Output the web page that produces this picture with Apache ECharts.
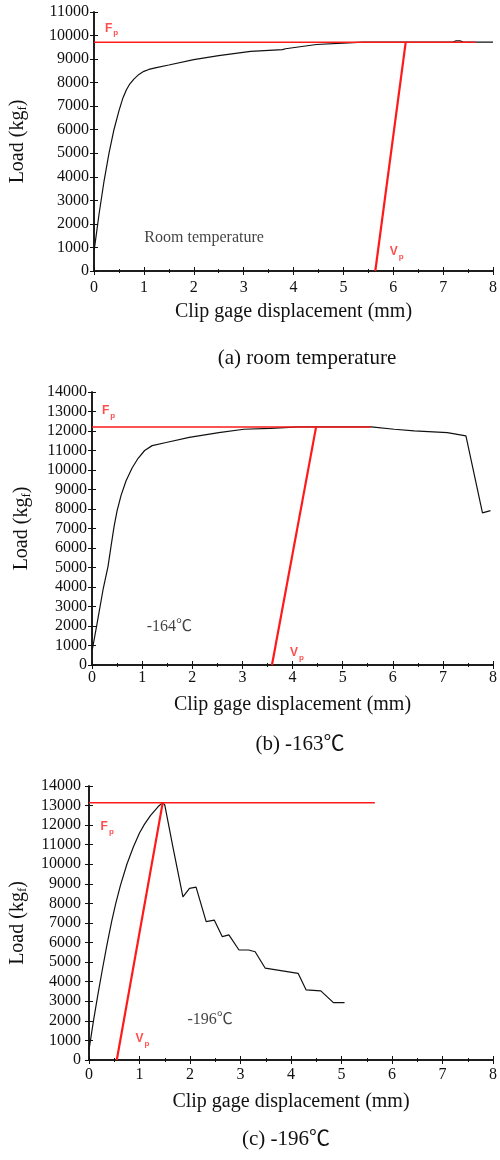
<!DOCTYPE html>
<html><head><meta charset="utf-8">
<script src="https://cdn.jsdelivr.net/npm/echarts@6/dist/echarts.min.js"></script>
<style>html,body{margin:0;padding:0;background:#fff}#c{width:500px;height:1160px}</style>
</head><body><div id="c"></div>
<script>
// ---- data ----
const roomX = [0.005,0.1,0.2,0.3,0.4,0.5,0.58,0.65,0.72,0.8,0.9,1.0,1.1,1.25,1.5,2.0,2.5,3.14,3.78,3.84,4.46,5.0,5.39,6.1,7.2,7.25,7.35,7.4,8];
const roomY = [900,2400,3800,5000,6000,6800,7350,7700,7950,8150,8350,8480,8560,8640,8750,8980,9150,9330,9400,9440,9620,9680,9720,9720,9720,9770,9770,9720,9720];
const roomFpX = [0,7.65]; const roomFpY = [9720,9720];
const roomVpX = [5.64,6.25]; const roomVpY = [0,9720];

const m164X = [0.005,0.09,0.22,0.32,0.38,0.44,0.5,0.58,0.68,0.8,0.92,1.05,1.2,1.48,1.94,2.53,3.03,3.56,4.12,5.57,6.03,6.43,7.09,7.46,7.79,7.95];
const m164Y = [770,1970,3860,5060,6100,7100,7900,8700,9450,10100,10600,11000,11250,11410,11670,11920,12090,12130,12210,12210,12090,12010,11920,11750,7800,7920];
const m164FpX = [0,5.56]; const m164FpY = [12200,12200];
const m164VpX = [3.59,4.47]; const m164VpY = [0,12200];

const m196X = [0.0,0.085,0.17,0.27,0.36,0.45,0.53,0.62,0.75,0.88,1.0,1.1,1.22,1.37,1.46,1.50,1.66,1.86,1.99,2.12,2.32,2.48,2.64,2.77,2.97,3.16,3.29,3.49,4.14,4.30,4.59,4.84,5.06];
const m196Y = [510,1950,3250,4700,5950,7100,8000,8900,10000,10900,11600,12050,12500,12950,13150,13030,10900,8340,8770,8830,7070,7150,6300,6390,5620,5620,5530,4690,4430,3580,3530,2930,2930];
const m196FpX = [0,5.66]; const m196FpY = [13150,13150];
const m196VpX = [0.55,1.46]; const m196VpY = [0,13150];

const xTicks = {min:0, max:8, interval:1};
const yMaxA = 11000, yMaxB = 14000, yMaxC = 14000;

const notes = [
  {g:0, x:1.01, y:1400, t:'Room temperature', kind:'txt'},
  {g:0, x:0.22, y:10300, kind:'Fp'},
  {g:0, x:5.93, y:810, kind:'Vp'},
  {g:1, x:1.09, y:1960, t:'-164℃', kind:'txt'},
  {g:1, x:0.2, y:13020, kind:'Fp'},
  {g:1, x:3.95, y:620, kind:'Vp'},
  {g:2, x:1.95, y:2040, t:'-196℃', kind:'txt'},
  {g:2, x:0.23, y:11900, kind:'Fp'},
  {g:2, x:0.92, y:1070, kind:'Vp'}
];
const captions = ['(a) room temperature','(b) -163℃','(c) -196℃'];
const xName = 'Clip gage displacement (mm)';
// ---- chart ----
const zip = (a,b) => a.map((v,i)=>[v,b[i]]);
const serif = '"Liberation Serif","Times New Roman","Noto Sans CJK SC",serif';
const grids = [
  {left:92, top:12, right:5, height:259},
  {left:92, top:392, right:4, height:273},
  {left:88, top:786, right:3, height:274}
];
const yMax = [yMaxA,yMaxB,yMaxC];
const xMargins = [9,5,7];
const yMargins = [5,5,8];
const xGaps = [31,30,32];
const yGaps = [65,59,60];
const xAxes=[], yAxes=[];
const plain = v => String(v);
grids.forEach((g,i)=>{
  const line = {show:true, lineStyle:{color:'#111', width:1.5}};
  const tick = {show:true, inside:true, length:4, lineStyle:{color:'#111', width:1}};
  xAxes.push({gridIndex:i, type:'value', min:xTicks.min, max:xTicks.max, interval:xTicks.interval, position:'bottom',
    axisLine:line, axisTick:tick,
    minorTick:{show:true, splitNumber:2, length:2, lineStyle:{color:'#111'}}, splitLine:{show:false}, minorSplitLine:{show:false},
    axisLabel:{fontFamily:serif, fontSize:16, color:'#111', margin:xMargins[i], formatter:plain},
    name:xName, nameLocation:'middle', nameGap:xGaps[i], nameTextStyle:{fontFamily:serif, fontSize:20, color:'#111', verticalAlign:'top'}});
  xAxes.push({gridIndex:i, type:'value', min:xTicks.min, max:xTicks.max, interval:xTicks.interval, position:'top',
    axisLine:line, axisTick:tick,
    minorTick:{show:true, splitNumber:2, length:2, lineStyle:{color:'#111'}}, splitLine:{show:false}, axisLabel:{show:false}});
  yAxes.push({gridIndex:i, type:'value', min:0, max:yMax[i], interval:1000, position:'left',
    axisLine:line, axisTick:tick, splitLine:{show:false},
    axisLabel:{fontFamily:serif, fontSize:16, color:'#111', margin:yMargins[i], formatter:plain},
    name:'Load (kg{s|f})', nameLocation:'middle', nameGap:yGaps[i],
    nameTextStyle:{fontFamily:serif, fontSize:20, color:'#111', rich:{s:{fontFamily:serif, fontSize:13, color:'#111', padding:[9,0,0,0]}}}});
  yAxes.push({gridIndex:i, type:'value', min:0, max:yMax[i], interval:1000, position:'right',
    axisLine:line, axisTick:tick, splitLine:{show:false}, axisLabel:{show:false}});
});
const sets = [
  [roomX,roomY,roomFpX,roomFpY,roomVpX,roomVpY],
  [m164X,m164Y,m164FpX,m164FpY,m164VpX,m164VpY],
  [m196X,m196Y,m196FpX,m196FpY,m196VpX,m196VpY]
];
const series=[];
sets.forEach((s,i)=>{
  const ax = {xAxisIndex:2*i, yAxisIndex:2*i};
  series.push(Object.assign({type:'line', data:zip(s[0],s[1]), showSymbol:false, symbol:'none', lineStyle:{color:'#111', width:1.2}, z:3}, ax));
  series.push(Object.assign({type:'line', data:zip(s[2],s[3]), showSymbol:false, symbol:'none', lineStyle:{color:'#ff1a1a', width:1.5}, z:4}, ax));
  series.push(Object.assign({type:'line', data:zip(s[4],s[5]), showSymbol:false, symbol:'none', lineStyle:{color:'#ff1a1a', width:2.2}, z:4}, ax));
});
const subRich = {
  f:{fontFamily:'"Liberation Sans",Arial,sans-serif', fontWeight:'bold', fontSize:12, color:'#ff2020'},
  p:{fontFamily:'"Liberation Sans",Arial,sans-serif', fontWeight:'bold', fontSize:8, color:'#ff2020', padding:[9,0,0,1]}
};
[0,1,2].forEach(i=>{
  const pts = notes.filter(n=>n.g===i);
  series.push({type:'scatter', xAxisIndex:2*i, yAxisIndex:2*i, symbolSize:0, silent:true, z:6,
    data: pts.map(n=>({value:[n.x,n.y], label:{show:true, position:'right', distance:0,
      formatter: n.kind==='txt' ? n.t : (n.kind==='Fp' ? '{f|F}{p|p}' : '{f|V}{p|p}'),
      fontFamily:serif, fontSize:16, color:'#111', rich:subRich}}))
  });
});
const capPos = [[307,358],[300,744],[286,1139]];
const graphic = captions.map((t,i)=>({type:'text', x:capPos[i][0], y:capPos[i][1],
  style:{text:t, font:'21px '+serif, fill:'#111', textAlign:'center', textVerticalAlign:'middle'}}));
const chart = echarts.init(document.getElementById('c'), null, {renderer:'canvas'});
chart.setOption({animation:false, backgroundColor:'#fff', grid:grids, xAxis:xAxes, yAxis:yAxes, series, graphic});
</script></body></html>
